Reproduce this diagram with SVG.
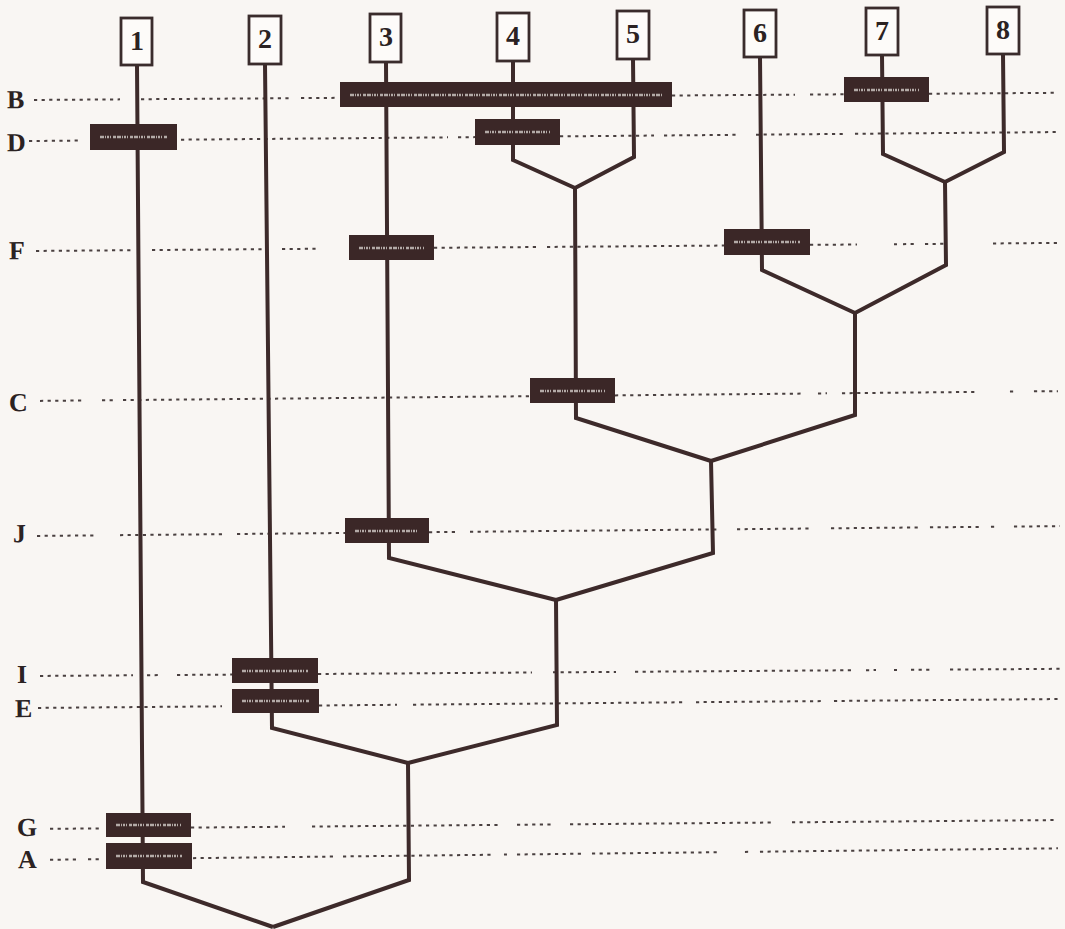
<svg xmlns="http://www.w3.org/2000/svg" width="1065" height="929" viewBox="0 0 1065 929">
<style>
  .bg{fill:#f9f6f3}
  .dot{fill:none;stroke:#4a4040;stroke-width:2;stroke-dasharray:3.2 4.4}
  .lbl{font-family:"Liberation Serif","Times New Roman",serif;font-weight:bold;font-size:26px;fill:#2b2222}
  .box{fill:#fdfbf9;stroke:#3a2c2c;stroke-width:2.8}
  .num{font-family:"Liberation Serif","Times New Roman",serif;font-weight:bold;font-size:28px;fill:#2b2222;text-anchor:middle}
  .br{fill:none;stroke:#3d2a2a;stroke-width:4;stroke-linejoin:miter;stroke-linecap:butt}
  .bar{fill:#3b2727}
  .smear{fill:none;stroke:#b3aaa7;stroke-width:2.4;stroke-dasharray:4 1 1 1 2 1 1 2 3 1}
</style>
<rect class="bg" x="0" y="0" width="1065" height="929"/>

<g id="rows">
  <g id="row-B" transform="rotate(-0.4 30 100)">
    <text class="lbl" x="7" y="108">B</text>
    <path class="dot" d="M34,100H120M141,100H289M301,100H336M672,100H795M810,100H844M929,100H1058"/>
  </g>
  <g id="row-D" transform="rotate(-0.5 30 141)">
    <text class="lbl" x="7" y="151">D</text>
    <path class="dot" d="M29,141H81M181,141H448M458,141H475M560,141H654M664,141H737M756,141H845M855,141H1058"/>
  </g>
  <g id="row-F" transform="rotate(-0.45 30 251)">
    <text class="lbl" x="9" y="259">F</text>
    <path class="dot" d="M36,251H133M152,251H263M282,251H317M434,251H538M547,251H724M810,251H857M894,251H897M903,251H917M925,251H946M993,251H1058"/>
  </g>
  <g id="row-C" transform="rotate(-0.55 30 401)">
    <text class="lbl" x="9" y="411">C</text>
    <path class="dot" d="M40,401H83M102,401H113M123,401H530M615,401H801M818,401H827M842,401H978M1010,401H1015M1034,401H1058"/>
  </g>
  <g id="row-J" transform="rotate(-0.55 30 536)">
    <text class="lbl" x="13" y="542">J</text>
    <path class="dot" d="M37,536H95M120,536H223M237,536H345M429,536H455M470,536H719M737,536H812M831,536H918M930,536H980M991,536H995M1014,536H1060"/>
  </g>
  <g id="row-I" transform="rotate(-0.4 30 676)">
    <text class="lbl" x="17" y="683">I</text>
    <path class="dot" d="M40,676H133M147,676H158M177,676H232M318,676H532M553,676H616M635,676H853M866,676H876M894,676H897M911,676H930M950,676H1060"/>
  </g>
  <g id="row-E" transform="rotate(-0.5 30 708)">
    <text class="lbl" x="15" y="717">E</text>
    <path class="dot" d="M38,708H222M319,708H397M413,708H685M696,708H821M834,708H1060"/>
  </g>
  <g id="row-G" transform="rotate(-0.5 30 829)">
    <text class="lbl" x="17" y="836">G</text>
    <path class="dot" d="M50,829H100M191,829H285M312,829H502M517,829H551M570,829H771M792,829H1058"/>
  </g>
  <g id="row-A" transform="rotate(-0.65 30 860)">
    <text class="lbl" x="18" y="868">A</text>
    <path class="dot" d="M50,860H77M88,860H100M193,860H333M343,860H491M504,860H507M517,860H581M592,860H719M745,860H750M760,860H1058"/>
  </g>
</g>

<g id="connectors">
  <path class="br" d="M137,65L143,882L273,927"/>
  <path class="br" d="M408,763L409,880L273,927"/>
  <path class="br" d="M265,64L272,728L408,763"/>
  <path class="br" d="M556,600L557,725L408,763"/>
  <path class="br" d="M386,62L389,558L556,600"/>
  <path class="br" d="M711,461L713,553L556,600"/>
  <path class="br" d="M575,188L576,418L711,461"/>
  <path class="br" d="M855,313L855,415L711,461"/>
  <path class="br" d="M513,61L513,160L575,188"/>
  <path class="br" d="M633,59L634,157L575,188"/>
  <path class="br" d="M760,57L762,270L855,313"/>
  <path class="br" d="M945,182L946,265L855,313"/>
  <path class="br" d="M882,55L883,154L945,182"/>
  <path class="br" d="M1003,54L1004,152L945,182"/>
</g>

<g id="bars">
  <g id="bar-B-345"><rect class="bar" x="340" y="82" width="332" height="25"/><path class="smear" d="M350,95H662"/></g>
  <g id="bar-D-1"><rect class="bar" x="90" y="124" width="87" height="26"/><path class="smear" d="M100,137H167"/></g>
  <g id="bar-D-4"><rect class="bar" x="475" y="119" width="85" height="26"/><path class="smear" d="M485,132H550"/></g>
  <g id="bar-B-7"><rect class="bar" x="844" y="77" width="85" height="25"/><path class="smear" d="M854,90H919"/></g>
  <g id="bar-F-3"><rect class="bar" x="349" y="235" width="85" height="25"/><path class="smear" d="M359,248H424"/></g>
  <g id="bar-F-6"><rect class="bar" x="724" y="229" width="86" height="26"/><path class="smear" d="M734,242H800"/></g>
  <g id="bar-C-45"><rect class="bar" x="530" y="378" width="85" height="25"/><path class="smear" d="M540,391H605"/></g>
  <g id="bar-J-3"><rect class="bar" x="345" y="518" width="84" height="25"/><path class="smear" d="M355,531H419"/></g>
  <g id="bar-I-2"><rect class="bar" x="232" y="658" width="86" height="25"/><path class="smear" d="M242,671H308"/></g>
  <g id="bar-E-2"><rect class="bar" x="232" y="689" width="87" height="24"/><path class="smear" d="M242,701H309"/></g>
  <g id="bar-G-1"><rect class="bar" x="106" y="813" width="85" height="24"/><path class="smear" d="M116,825H181"/></g>
  <g id="bar-A-1"><rect class="bar" x="106" y="843" width="86" height="26"/><path class="smear" d="M116,856H182"/></g>
</g>

<g id="taxa">
  <g id="taxon-1"><rect class="box" x="121" y="18" width="31" height="47"/><text class="num" x="137" y="50">1</text></g>
  <g id="taxon-2"><rect class="box" x="249" y="16" width="32" height="48"/><text class="num" x="265" y="48">2</text></g>
  <g id="taxon-3"><rect class="box" x="370" y="14" width="31" height="48"/><text class="num" x="386" y="46">3</text></g>
  <g id="taxon-4"><rect class="box" x="497" y="13" width="32" height="48"/><text class="num" x="513" y="45">4</text></g>
  <g id="taxon-5"><rect class="box" x="617" y="11" width="32" height="48"/><text class="num" x="633" y="43">5</text></g>
  <g id="taxon-6"><rect class="box" x="744" y="10" width="32" height="47"/><text class="num" x="760" y="42">6</text></g>
  <g id="taxon-7"><rect class="box" x="866" y="8" width="32" height="47"/><text class="num" x="882" y="40">7</text></g>
  <g id="taxon-8"><rect class="box" x="987" y="7" width="32" height="47"/><text class="num" x="1003" y="39">8</text></g>
</g>
</svg>
